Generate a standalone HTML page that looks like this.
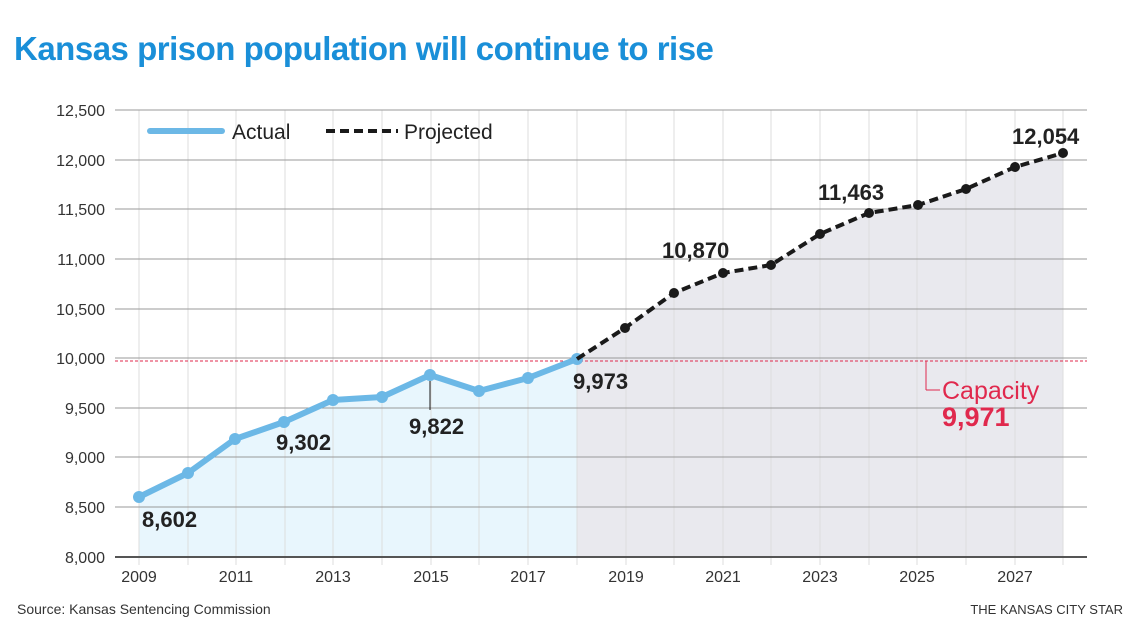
<!DOCTYPE html>
<html><head><meta charset="utf-8"><style>
body{margin:0;background:#fff;width:1140px;height:641px;overflow:hidden}
svg{display:block;font-family:"Liberation Sans",sans-serif}
</style></head><body>
<svg width="1140" height="641" viewBox="0 0 1140 641">
<text x="14" y="60" font-size="33" font-weight="bold" fill="#1a8fd8" letter-spacing="-0.5">Kansas prison population will continue to rise</text>
<polygon points="139,497 188,473 235,439 284,422 333,400 382,397 430,375 479,391 528,378 577,359 577,557 139,557" fill="#e8f6fd"/>
<polygon points="577,359 625,328 674,293 723,273 771,265 820,234 869,213 918,205 966,189 1015,167 1063,153 1063,557 577,557" fill="#e9e9ee"/>
<g stroke="#ddd" stroke-width="1">
<line x1="139" y1="110" x2="139" y2="565"/><line x1="188" y1="110" x2="188" y2="565"/><line x1="236" y1="110" x2="236" y2="565"/><line x1="285" y1="110" x2="285" y2="565"/><line x1="333" y1="110" x2="333" y2="565"/><line x1="382" y1="110" x2="382" y2="565"/><line x1="431" y1="110" x2="431" y2="565"/><line x1="479" y1="110" x2="479" y2="565"/><line x1="528" y1="110" x2="528" y2="565"/><line x1="577" y1="110" x2="577" y2="565"/><line x1="626" y1="110" x2="626" y2="565"/><line x1="674" y1="110" x2="674" y2="565"/><line x1="723" y1="110" x2="723" y2="565"/><line x1="771" y1="110" x2="771" y2="565"/><line x1="820" y1="110" x2="820" y2="565"/><line x1="869" y1="110" x2="869" y2="565"/><line x1="917" y1="110" x2="917" y2="565"/><line x1="966" y1="110" x2="966" y2="565"/><line x1="1015" y1="110" x2="1015" y2="565"/><line x1="1063" y1="110" x2="1063" y2="565"/>
</g>
<g stroke="#999" stroke-width="1">
<line x1="115" y1="110" x2="1087" y2="110"/><line x1="115" y1="160" x2="1087" y2="160"/><line x1="115" y1="209" x2="1087" y2="209"/><line x1="115" y1="259" x2="1087" y2="259"/><line x1="115" y1="309" x2="1087" y2="309"/><line x1="115" y1="358" x2="1087" y2="358"/><line x1="115" y1="408" x2="1087" y2="408"/><line x1="115" y1="457" x2="1087" y2="457"/><line x1="115" y1="507" x2="1087" y2="507"/>
</g>
<line x1="115" y1="557" x2="1087" y2="557" stroke="#555" stroke-width="2"/>
<line x1="115" y1="361" x2="1087" y2="361" stroke="#e0294d" stroke-width="1" stroke-dasharray="3,2"/>
<g font-size="16" fill="#333" text-anchor="end">
<text x="105" y="116">12,500</text><text x="105" y="166">12,000</text><text x="105" y="215">11,500</text><text x="105" y="265">11,000</text><text x="105" y="315">10,500</text><text x="105" y="364">10,000</text><text x="105" y="414">9,500</text><text x="105" y="463">9,000</text><text x="105" y="513">8,500</text><text x="105" y="563">8,000</text>
</g>
<g font-size="16" fill="#333" text-anchor="middle">
<text x="139" y="582">2009</text><text x="236" y="582">2011</text><text x="333" y="582">2013</text><text x="431" y="582">2015</text><text x="528" y="582">2017</text><text x="626" y="582">2019</text><text x="723" y="582">2021</text><text x="820" y="582">2023</text><text x="917" y="582">2025</text><text x="1015" y="582">2027</text>
</g>
<polyline points="139,497 188,473 235,439 284,422 333,400 382,397 430,375 479,391 528,378 577,359" fill="none" stroke="#6cb8e6" stroke-width="6" stroke-linejoin="round"/>
<g fill="#6cb8e6"><circle cx="139" cy="497" r="6"/><circle cx="188" cy="473" r="6"/><circle cx="235" cy="439" r="6"/><circle cx="284" cy="422" r="6"/><circle cx="333" cy="400" r="6"/><circle cx="382" cy="397" r="6"/><circle cx="430" cy="375" r="6"/><circle cx="479" cy="391" r="6"/><circle cx="528" cy="378" r="6"/><circle cx="577" cy="359" r="6"/></g>
<polyline points="577,359 625,328 674,293 723,273 771,265 820,234 869,213 918,205 966,189 1015,167 1063,153" fill="none" stroke="#1a1a1a" stroke-width="4" stroke-dasharray="9,5"/>
<g fill="#1a1a1a"><circle cx="625" cy="328" r="5"/><circle cx="674" cy="293" r="5"/><circle cx="723" cy="273" r="5"/><circle cx="771" cy="265" r="5"/><circle cx="820" cy="234" r="5"/><circle cx="869" cy="213" r="5"/><circle cx="918" cy="205" r="5"/><circle cx="966" cy="189" r="5"/><circle cx="1015" cy="167" r="5"/><circle cx="1063" cy="153" r="5"/></g>
<line x1="430" y1="381" x2="430" y2="410" stroke="#1a1a1a" stroke-width="1"/>
<g font-size="22" font-weight="bold" fill="#222">
<text x="142" y="527">8,602</text><text x="276" y="450">9,302</text><text x="409" y="434">9,822</text><text x="573" y="389">9,973</text><text x="662" y="258">10,870</text><text x="818" y="200">11,463</text><text x="1012" y="144">12,054</text>
</g>
<line x1="926" y1="361" x2="926" y2="390" stroke="#e0294d" stroke-width="1"/>
<line x1="926" y1="390" x2="940" y2="390" stroke="#e0294d" stroke-width="1"/>
<text x="942" y="399" font-size="25" fill="#e0294d">Capacity</text>
<text x="942" y="426" font-size="27" font-weight="bold" fill="#e0294d">9,971</text>
<line x1="150" y1="131" x2="222" y2="131" stroke="#6cb8e6" stroke-width="6" stroke-linecap="round"/>
<text x="232" y="139" font-size="21" fill="#222">Actual</text>
<line x1="326" y1="131" x2="398" y2="131" stroke="#1a1a1a" stroke-width="4" stroke-dasharray="9,5"/>
<text x="404" y="139" font-size="21" fill="#222">Projected</text>
<text x="17" y="614" font-size="14" fill="#333">Source: Kansas Sentencing Commission</text>
<text x="1123" y="614" font-size="13" fill="#333" text-anchor="end">THE KANSAS CITY STAR</text>
</svg>
</body></html>
